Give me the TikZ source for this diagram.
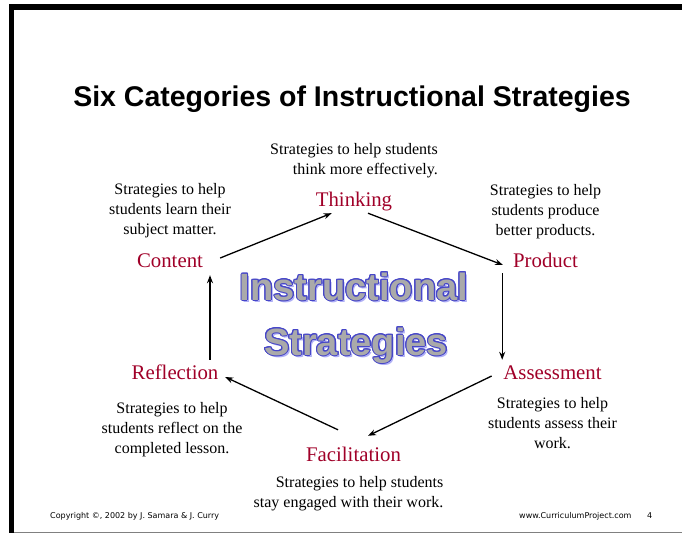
\documentclass[tikz,border=0pt]{standalone}
\usepackage{fontspec}
\setmainfont{Liberation Serif}
\newfontfamily\arialfont{Liberation Sans}
\newfontfamily\footfont{DejaVu Sans}
\usepackage{contour}
\usetikzlibrary{arrows.meta,positioning}
\definecolor{catred}{RGB}{160,0,40}
\definecolor{letterfill}{RGB}{170,170,170}
\definecolor{letterline}{RGB}{70,70,200}
\definecolor{lettershade}{RGB}{175,175,245}
\contourlength{1pt}
\contournumber{16}

\begin{document}
\begin{tikzpicture}[x=1pt,y=-1pt,>={Stealth[length=8pt,width=6pt]},
	cat/.style={text=catred,font=\fontsize{20.8}{24}\selectfont,text height=14pt,text depth=4pt,inner xsep=0pt,inner ysep=2pt},
	desc/.style={font=\fontsize{16}{20}\selectfont,align=center,inner sep=0pt},
	big/.style={font=\arialfont\bfseries\fontsize{38}{40}\selectfont,anchor=base,inner sep=0pt},
	foot/.style={font=\footfont\fontsize{8}{10}\selectfont,anchor=base west,inner sep=0pt}]
	\useasboundingbox (0,0) rectangle (682,533);
	\fill (9,4) rectangle (682,10);
	\fill (9,4) rectangle (14,533);
	\draw[gray,line width=1pt] (14,532) -- (682,532);

	\node[font=\arialfont\bfseries\fontsize{28.5}{30}\selectfont,anchor=base] (title) at (352,106) {Six Categories of Instructional Strategies};

	\node[big,text=lettershade] (sI) at (356,302) {Instructional};
	\node[big,text=lettershade] (sS) at (358,357) {Strategies};
	\node[big,text=letterfill] (wI) at (354,300) {\contour{letterline}{Instructional}};
	\node[big,text=letterfill] (wS) at (356,355) {\contour{letterline}{Strategies}};

	\node[cat] (th) at (354,201) {Thinking};
	\node[cat] (co) at (170,262) {Content};
	\node[cat] (pr) at (545.5,262) {Product};
	\node[cat] (re) at (175,374) {Reflection};
	\node[cat] (as) at (552.5,374) {Assessment};
	\node[cat] (fa) at (353.5,456) {Facilitation};

	\node[desc,align=right] (dth) [above=11.5pt of th] {Strategies to help students\\think more effectively.};
	\node[desc] (dco) [above=12.5pt of co] {Strategies to help\\students learn their\\subject matter.};
	\node[desc] (dpr) [above=11.5pt of pr] {Strategies to help\\students produce\\better products.};
	\node[desc] (dre) [below=17pt of re,xshift=-3pt] {Strategies to help\\students reflect on the\\completed lesson.};
	\node[desc] (das) [below=12pt of as] {Strategies to help\\students assess their\\work.};
	\node[desc,align=right] (dfa) [below=9pt of fa,xshift=-5pt] {Strategies to help students\\stay engaged with their work.};

	\path[->,line width=1.3pt]
	([xshift=17pt,yshift=4pt]co.east) edge ([xshift=16pt,yshift=-1pt]th.south west)
	([xshift=14pt,yshift=-1pt]th.south) edge ([xshift=-10pt,yshift=-3pt]pr.west)
	([xshift=-1pt]pr.south -| as.west) edge ([xshift=-1pt,yshift=3pt]as.north west)
	([xshift=-11.5pt,yshift=-2pt]as.west) edge ([xshift=14.5pt,yshift=9pt]fa.north)
	([xshift=-15.5pt,yshift=15pt]fa.north) edge ([xshift=6.7pt,yshift=-3pt]re.east)
	([xshift=35pt,yshift=3pt]re.north) edge ([xshift=40pt,yshift=-2pt]co.south)
	;

	\node[foot] (copy) at (50,518) {Copyright ©, 2002 by J. Samara \& J. Curry};
	\node[foot] (web) at (519,518) {www.CurriculumProject.com};
	\node[foot] (page) at (647,518) {4};
\end{tikzpicture}
\end{document}
